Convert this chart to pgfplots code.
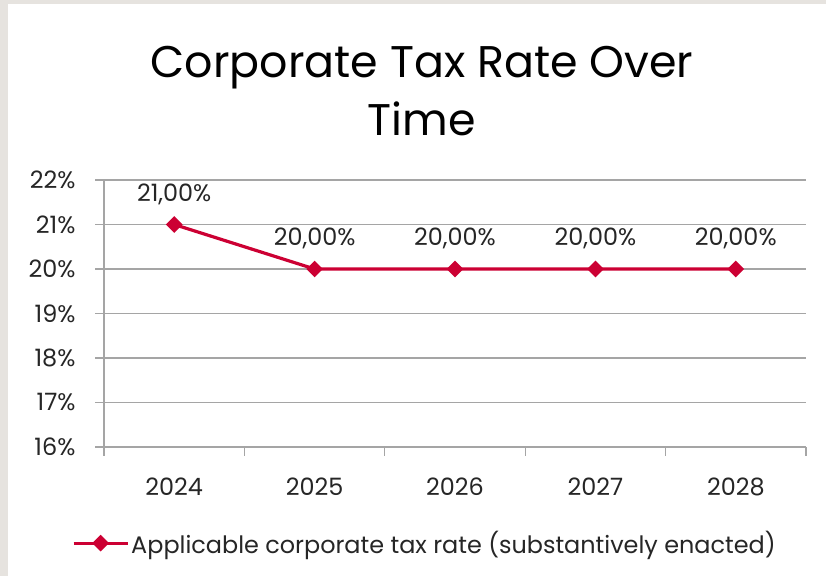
\documentclass[border=0pt]{standalone}
\usepackage{fontspec}
\setmainfont{Poppins}
\usepackage{pgfplots}
\pgfplotsset{compat=1.18}
\definecolor{bg}{RGB}{230,227,223}
\definecolor{linec}{RGB}{204,0,51}
\definecolor{gridc}{RGB}{165,165,165}
\begin{document}
\begin{tikzpicture}[x=1bp,y=1bp]
\path[use as bounding box] (0,0) rectangle (826,576);
\fill[bg] (0,0) rectangle (826,576);
\fill[white] (8,0) rectangle (826,572);
\node[font=\fontsize{44.5}{58}\selectfont, align=center, anchor=center] at (422,485) {Corporate Tax Rate Over\\Time};
\begin{axis}[
  at={(104bp,129bp)}, anchor=south west,
  scale only axis, width=702bp, height=267bp,
  xmin=-0.5, xmax=4.5, ymin=16, ymax=22,
  ytick={16,17,...,22},
  xtick={0,1,2,3,4},
  xticklabels={2024,2025,2026,2027,2028},
  minor xtick={-0.5,0.5,1.5,2.5,3.5,4.5},
  axis lines*=left,
  axis line style={gridc, line width=1.3bp},
  ymajorgrids,
  grid style={gridc, line width=1.3bp},
  tick align=outside,
  major tick length=9bp, minor tick length=9bp,
  every tick/.style={gridc, line width=1.3bp},
  major x tick style={draw=none},
  tick label style={font=\fontsize{24}{28}\selectfont, text=black!85},
  /pgf/number format/assume math mode=true,
  yticklabel={\pgfmathprintnumber{\tick}\%},
  yticklabel style={xshift=-16bp},
  xticklabel style={yshift=-18bp},
  legend style={at={(0.457,-0.36)}, anchor=center, draw=none, fill=none,
    font=\fontsize{24}{28}\selectfont, text=black!85, /tikz/every even column/.append style={column sep=2bp}},
  legend cell align=left,
  legend image code/.code={\draw[mark repeat=2,mark phase=2,#1] plot coordinates {(0bp,0bp)(27bp,0bp)(54bp,0bp)};},
  nodes near coords={\pgfmathprintnumber[fixed,fixed zerofill,precision=2,use comma,assume math mode=true]{\pgfplotspointmeta}\%},
  every node near coord/.append style={font=\fontsize{24}{28}\selectfont, text=black!85, anchor=south, yshift=15bp},
  clip=false,
]
\addplot[linec, line width=3.2bp, mark=square*, mark size=4.3bp, mark options={rotate=45, solid}] coordinates {
 (0,21) (1,20) (2,20) (3,20) (4,20)};
\addlegendentry{Applicable corporate tax rate (substantively enacted)}
\end{axis}
\end{tikzpicture}
\end{document}
